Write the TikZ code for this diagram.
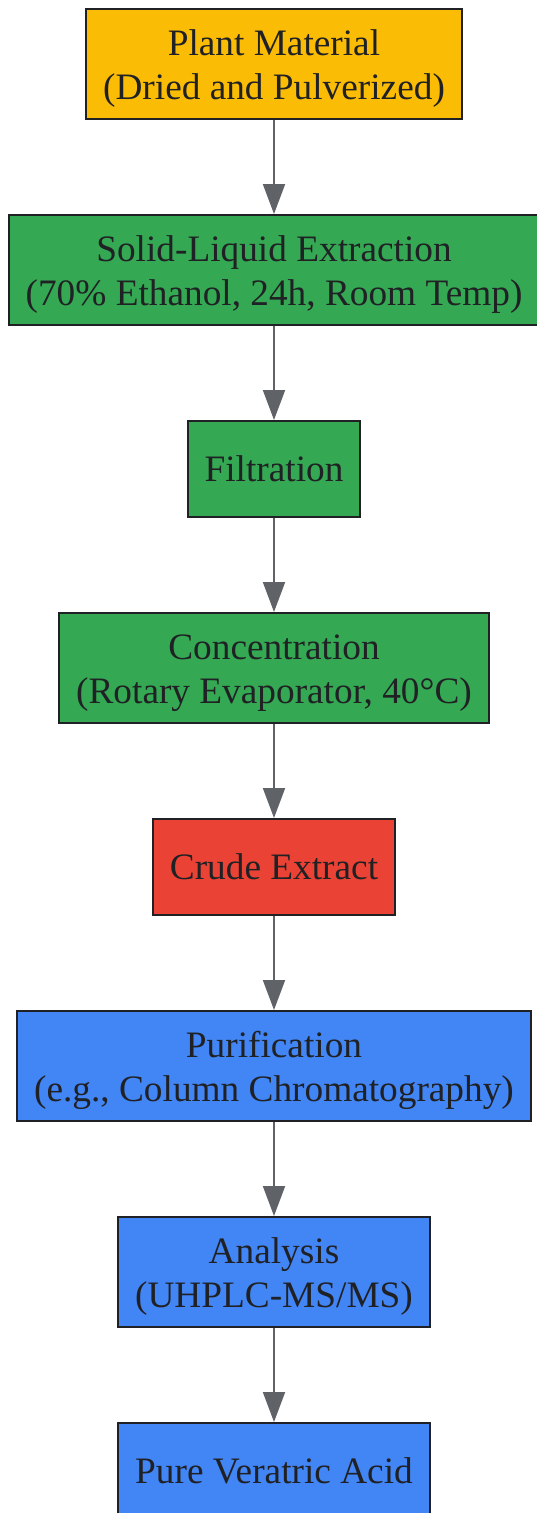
\documentclass[tikz,border=0pt]{standalone}
\usepackage{fontspec}
\setmainfont{Liberation Serif}
\usepackage{xcolor}
\usepackage{tikz}
\usetikzlibrary{positioning, arrows.meta}
\definecolor{cyellow}{HTML}{FBBC05}
\definecolor{cgreen}{HTML}{34A853}
\definecolor{cred}{HTML}{EA4335}
\definecolor{cblue}{HTML}{4285F4}
\definecolor{ctext}{HTML}{202124}
\definecolor{cline}{HTML}{5F6368}
\newcommand{\twoline}[2]{\begin{tabular}{@{}c@{}}\rule{0pt}{41pt}#1\\#2\end{tabular}}
\tikzstyle{block1} = [rectangle, minimum height=96pt, inner xsep=17pt, inner ysep=4pt, text=ctext, draw=ctext, line width=2pt, font=\fontsize{37.3}{44}\selectfont]
\tikzstyle{block} = [block1, minimum height=110pt]
\tikzstyle{arrow} = [draw=cline, line width=2pt, -{Triangle[width=22pt,length=30pt]}]

\begin{document}
\begin{tikzpicture}[x=1pt, y=1pt, node distance=94pt]
        \useasboundingbox (0,0) rectangle (537,-1513);
        \node (plant) [block, fill=cyellow] at (274,-64) {\twoline{Plant Material}{(Dried and Pulverized)}};
        \node (extr) [block, fill=cgreen, below=of plant] {\twoline{Solid-Liquid Extraction}{(70\% Ethanol, 24h, Room Temp)}};
        \node (filt) [block1, fill=cgreen, below=of extr] {Filtration};
        \node (conc) [block, fill=cgreen, below=of filt] {\twoline{Concentration}{(Rotary Evaporator, 40°C)}};
        \node (crude) [block1, fill=cred, below=of conc] {Crude Extract};
        \node (purif) [block, fill=cblue, below=of crude] {\twoline{Purification}{(e.g., Column Chromatography)}};
        \node (anal) [block, fill=cblue, below=of purif] {\twoline{Analysis}{(UHPLC-MS/MS)}};
        \node (pure) [block1, fill=cblue, below=of anal] {Pure Veratric Acid};

        \draw [arrow] (plant) -- (extr);
        \draw [arrow] (extr) -- (filt);
        \draw [arrow] (filt) -- (conc);
        \draw [arrow] (conc) -- (crude);
        \draw [arrow] (crude) -- (purif);
        \draw [arrow] (purif) -- (anal);
        \draw [arrow] (anal) -- (pure);
    \end{tikzpicture}
\end{document}
